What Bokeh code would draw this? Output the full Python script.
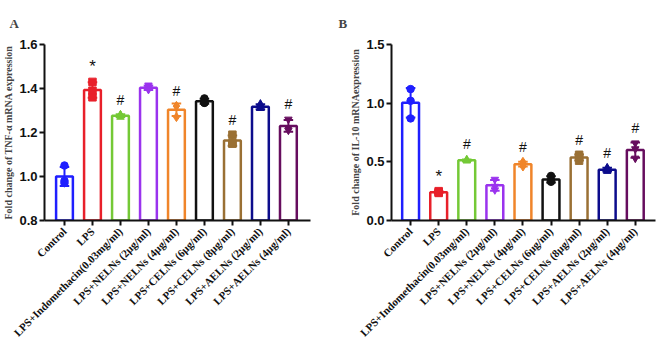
import math
import numpy as np
from bokeh.plotting import figure
from bokeh.layouts import row
from bokeh.models import FixedTicker, ColumnDataSource
from bokeh.core.properties import value
from bokeh.embed import file_html
from bokeh.resources import INLINE

groups = [
    "Control",
    "LPS",
    "LPS+Indomethacin(0.03mg/ml)",
    "LPS+NELNs (2μg/ml)",
    "LPS+NELNs (4μg/ml)",
    "LPS+CELNs (6μg/ml)",
    "LPS+CELNs (8μg/ml)",
    "LPS+AELNs (2μg/ml)",
    "LPS+AELNs (4μg/ml)",
]
colors = ["#1f1fff", "#e8202a", "#74c936", "#9a33ee", "#f0852a",
          "#111111", "#9a7034", "#0c0c8c", "#660d5e"]
markers = ["circle", "square", "triangle", "inverted_triangle", "diamond",
           "circle", "square", "triangle", "inverted_triangle"]

# TNF-alpha fold change, three replicates per group
tnf_points = [
    [1.05, 0.98, 0.97],
    [1.43, 1.39, 1.36],
    [1.27, 1.28, 1.28],
    [1.415, 1.40, 1.395],
    [1.32, 1.32, 1.27],
    [1.355, 1.335, 1.335],
    [1.19, 1.15, 1.15],
    [1.33, 1.31, 1.31],
    [1.26, 1.22, 1.21],
]
tnf_marks = ["", "*", "#", "", "#", "", "#", "", "#"]
tnf_ticks = [0.8, 1.0, 1.2, 1.4, 1.6]

# IL-10 fold change, three replicates per group
il10_points = [
    [1.12, 1.02, 0.87],
    [0.25, 0.24, 0.235],
    [0.52, 0.51, 0.51],
    [0.35, 0.29, 0.26],
    [0.50, 0.48, 0.46],
    [0.38, 0.33, 0.34],
    [0.56, 0.51, 0.54],
    [0.45, 0.42, 0.43],
    [0.66, 0.61, 0.53],
]
il10_marks = ["", "*", "#", "", "#", "", "#", "#", "#"]
il10_ticks = [0.0, 0.5, 1.0, 1.5]

SERIF = "Liberation Serif"
SANS = "Liberation Sans"


def panel(points, marks, ticks, ylabel, letter, width, left, right, xr):
    n = len(groups)
    xs = list(range(n))
    means = [float(np.mean(p)) for p in points]
    sds = [float(np.std(p, ddof=1)) for p in points]
    y0, y1 = ticks[0], ticks[-1]

    p = figure(width=width, height=345, x_range=xr, y_range=(y0, y1),
               output_backend="svg", toolbar_location=None,
               min_border_left=left, min_border_right=right,
               min_border_top=43, min_border_bottom=125)
    p.outline_line_color = None
    p.grid.visible = False
    p.background_fill_color = "white"
    p.border_fill_color = "white"

    # panel letter
    p.title.text = letter
    p.title.text_font = SERIF
    p.title.text_font_size = "13px"
    p.title.text_font_style = "bold"
    p.title.align = "left"
    p.title.offset = 8 - left
    p.title.standoff = 27

    # bars: outlined, white fill
    bars = ColumnDataSource(dict(x=xs, top=means, color=colors))
    p.vbar(x="x", top="top", bottom=y0, width=0.6, source=bars,
           fill_color="white", line_color="color", line_width=2.5)

    # error bars (mean +/- SD) with caps
    lo = [m - s for m, s in zip(means, sds)]
    hi = [m + s for m, s in zip(means, sds)]
    p.segment(x0=xs, y0=lo, x1=xs, y1=hi, line_color=colors, line_width=2)
    cap = 0.17
    for yy in (lo, hi):
        p.segment(x0=[x - cap for x in xs], y0=yy, x1=[x + cap for x in xs],
                  y1=yy, line_color=colors, line_width=2)

    # individual replicates
    for i, pts in enumerate(points):
        p.scatter(x=[xs[i]] * len(pts), y=pts, marker=markers[i],
                  size=7.5 if markers[i] != "diamond" else 9,
                  fill_color=colors[i], line_color=colors[i])

    # significance marks
    for sym, size in (("*", "17px"), ("#", "14px")):
        mk = [(xs[i], max(points[i])) for i, m in enumerate(marks) if m == sym]
        if mk:
            p.text(x=[a for a, _ in mk], y=[b for _, b in mk], text=[sym] * len(mk),
                   text_align="center", text_baseline="middle", y_offset=-15,
                   text_font=value(SANS), text_font_size=size, text_color="#111111")

    # axes
    for ax in (p.xaxis[0], p.yaxis[0]):
        ax.axis_line_width = 2
        ax.major_tick_line_width = 2
        ax.major_tick_out = 5
        ax.major_tick_in = 0
        ax.minor_tick_line_color = None
        ax.axis_line_color = "#111111"
        ax.major_tick_line_color = "#111111"

    p.yaxis.ticker = FixedTicker(ticks=ticks)
    p.yaxis.major_label_overrides = {t: f"{t:.1f}" for t in ticks}
    p.yaxis.major_label_text_font = SANS
    p.yaxis.major_label_text_font_style = "bold"
    p.yaxis.major_label_text_font_size = "13px"
    p.yaxis.major_label_text_color = "#111111"
    p.yaxis.major_label_standoff = 2
    p.yaxis.axis_label = ylabel
    p.yaxis.axis_label_text_font = SERIF
    p.yaxis.axis_label_text_font_style = "bold"
    p.yaxis.axis_label_text_font_size = "10px"
    p.yaxis.axis_label_standoff = 2

    p.xaxis.ticker = FixedTicker(ticks=xs)
    p.xaxis.major_label_overrides = {i: g for i, g in enumerate(groups)}
    p.xaxis.major_label_orientation = math.pi / 4
    p.xaxis.major_label_text_font = SERIF
    p.xaxis.major_label_text_font_style = "bold"
    p.xaxis.major_label_text_font_size = "11px"
    p.xaxis.major_label_text_color = "#111111"
    p.xaxis.major_label_standoff = 4
    return p


pa = panel(tnf_points, tnf_marks, tnf_ticks,
           "Fold change of TNF-α mRNA expression", "A",
           width=330, left=43, right=20, xr=(-0.714, 8.79))
pb = panel(il10_points, il10_marks, il10_ticks,
           "Fold change of IL-10 mRNAexpression", "B",
           width=328, left=61, right=3, xr=(-0.68, 8.72))

layout = row(pa, pb)
open("out.html", "w").write(file_html(layout, INLINE))
